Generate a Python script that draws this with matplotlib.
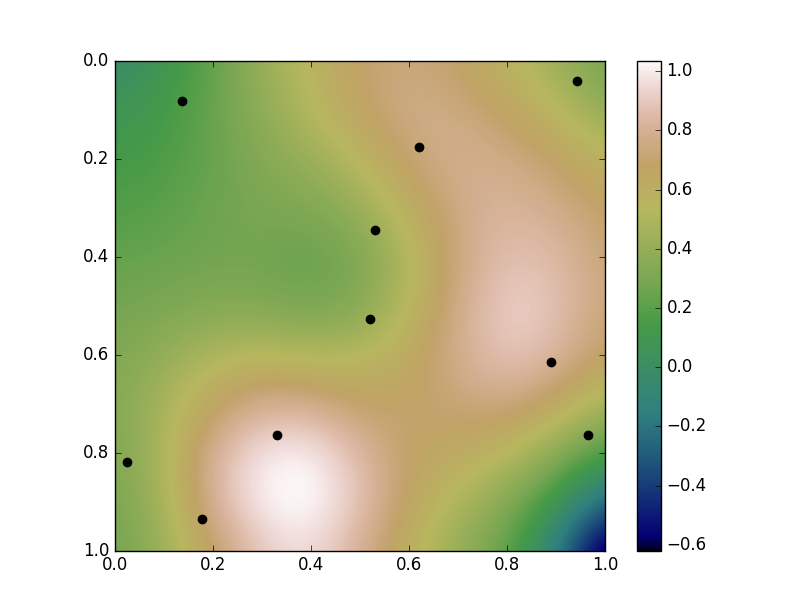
import matplotlib
matplotlib.use('Agg')
import matplotlib.pyplot as plt
import numpy as np

plt.style.use('classic')

# valores, linhas = y de 0 a 1, colunas = x de 0 a 1
row_00 = [-0.05, 0.08, 0.22, 0.42, 0.56, 0.70, 0.74, 0.68, 0.56, 0.44, 0.27]
row_01 = [0.07, 0.13, 0.24, 0.38, 0.53, 0.68, 0.78, 0.76, 0.66, 0.55, 0.38]
row_02 = [0.13, 0.16, 0.24, 0.33, 0.42, 0.55, 0.72, 0.80, 0.77, 0.69, 0.57]
row_03 = [0.17, 0.20, 0.26, 0.30, 0.31, 0.41, 0.60, 0.77, 0.83, 0.78, 0.68]
row_04 = [0.23, 0.25, 0.27, 0.27, 0.23, 0.30, 0.50, 0.75, 0.88, 0.86, 0.72]
row_05 = [0.27, 0.30, 0.33, 0.32, 0.28, 0.33, 0.53, 0.78, 0.93, 0.89, 0.73]
row_06 = [0.31, 0.40, 0.50, 0.54, 0.50, 0.52, 0.63, 0.79, 0.91, 0.85, 0.67]
row_07 = [0.33, 0.47, 0.66, 0.81, 0.79, 0.69, 0.68, 0.73, 0.76, 0.65, 0.47]
row_08 = [0.31, 0.48, 0.83, 1.00, 1.03, 0.85, 0.68, 0.63, 0.55, 0.37, 0.15]
row_09 = [0.29, 0.46, 0.83, 1.03, 1.06, 0.90, 0.66, 0.50, 0.34, 0.10, -0.28]
row_10 = [0.26, 0.42, 0.68, 0.90, 0.97, 0.80, 0.58, 0.40, 0.22, -0.16, -0.75]

# pontos observados
px = [0.136, 0.620, 0.943, 0.530, 0.521, 0.890, 0.966, 0.330, 0.025, 0.178]
py = [0.083, 0.177, 0.041, 0.345, 0.528, 0.615, 0.764, 0.763, 0.818, 0.935]

z = np.array([row_00, row_01, row_02, row_03, row_04, row_05,
              row_06, row_07, row_08, row_09, row_10])

fig = plt.figure(figsize=(8.12, 6.12), dpi=100, facecolor='white')
ax = fig.add_axes([115 / 812, 61.25 / 612, 490 / 812, 490 / 612])
cax = fig.add_axes([637 / 812, 61.25 / 612, 24 / 812, 490 / 612])

im = ax.imshow(z, cmap='gist_earth', interpolation='bicubic', aspect='auto',
               extent=(-0.05, 1.05, 1.05, -0.05), vmin=-0.62, vmax=1.035)
ax.scatter(px, py, c='k', s=36, edgecolors='k', zorder=3)
ax.set_xlim(0, 1)
ax.set_ylim(1, 0)

cb = fig.colorbar(im, cax=cax, ticks=np.arange(-0.6, 1.01, 0.2))

fig.savefig('out.png', dpi=100, facecolor='white')
